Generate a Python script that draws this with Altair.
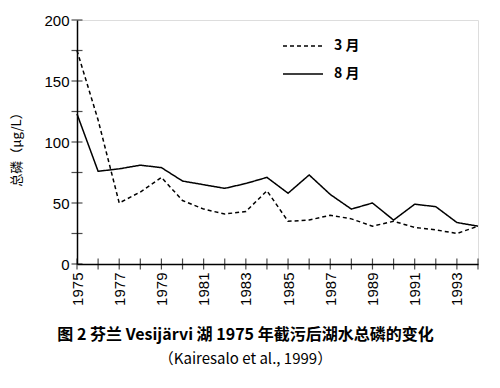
import altair as alt
import pandas as pd

years = list(range(1975, 1995))
march = [175, 118, 50, 59, 71, 52, 45, 41, 43, 60, 35, 36, 40, 37, 31, 35, 30, 28, 25, 31]
august = [123, 76, 78, 81, 79, 68, 65, 62, 66, 71, 58, 73, 57, 45, 50, 36, 49, 47, 34, 31]
series_names = ["3 月", "8 月"]
y_label_values = [0, 50, 100, 150, 200]
y_tick_values = [0, 25, 50, 75, 100, 125, 150, 175, 200]
x_label_values = list(range(1975, 1995, 2))

rows = []
for y, m, a in zip(years, march, august):
    rows.append({"year": y, "value": m, "series": series_names[0]})
    rows.append({"year": y, "value": a, "series": series_names[1]})
df = pd.DataFrame(rows)

FONT = "Liberation Sans"
CJK = "Noto Sans CJK SC"

xscale = alt.Scale(domain=[1975, 1994], nice=False, zero=False)
yscale = alt.Scale(domain=[0, 200], nice=False)

lines = alt.Chart(df).mark_line(color="black", strokeWidth=1.5).encode(
    x=alt.X("year:Q", scale=xscale,
            axis=alt.Axis(values=x_label_values, format="d", labelAngle=270,
                          title=None, ticks=False, grid=False, domainColor="black",
                          domainWidth=1.5, labelFont=FONT, labelFontSize=15,
                          labelColor="black", labelPadding=8)),
    y=alt.Y("value:Q", scale=yscale,
            axis=alt.Axis(values=y_label_values, title="总磷（μg/L）", ticks=False,
                          grid=False, domainColor="black", domainWidth=1.5,
                          labelFont=FONT, labelFontSize=15, labelColor="black",
                          labelPadding=8, titleFont=CJK, titleFontSize=13,
                          titleFontWeight="normal", titleColor="black",
                          titleX=-61, titleY=126, titleAngle=270,
                          titleBaseline="middle", titleAlign="center")),
    strokeDash=alt.StrokeDash("series:N",
        scale=alt.Scale(domain=series_names, range=[[4, 3], [1, 0]]),
        legend=alt.Legend(title=None, orient="none", legendX=205, legendY=5,
                          symbolType="stroke", symbolSize=1600, symbolStrokeColor="black",
                          symbolStrokeWidth=1.5, labelFont=CJK, labelFontSize=14,
                          labelFontWeight="bold", labelColor="black", labelOffset=10,
                          rowPadding=-21)),
)

xt = pd.DataFrame({"year": years, "value": [0] * len(years)})
xticks = alt.Chart(xt).mark_tick(color="black", orient="vertical", size=11, thickness=1.2).encode(
    x=alt.X("year:Q", scale=xscale), y=alt.Y("value:Q", scale=yscale))

yt = pd.DataFrame({"year": [1975] * len(y_tick_values), "value": y_tick_values})
yticks = alt.Chart(yt).mark_tick(color="black", orient="horizontal", size=11, thickness=1.2).encode(
    x=alt.X("year:Q", scale=xscale), y=alt.Y("value:Q", scale=yscale))

chart = alt.layer(lines, xticks, yticks).properties(
    width=401, height=244,
    autosize=alt.AutoSizeParams(type="none"),
    padding={"left": 69, "top": 12, "right": 14, "bottom": 116},
    title=alt.TitleParams(
        text="图 2  芬兰 Vesijärvi 湖 1975 年截污后湖水总磷的变化",
        subtitle="（Kairesalo  et  al.,  1999）",
        orient="bottom", anchor="middle", dx=-32, offset=22,
        font=CJK, fontSize=16, fontWeight="bold", color="black",
        subtitleFont=CJK, subtitleFontSize=15, subtitleFontWeight="normal",
        subtitleColor="black", subtitlePadding=9),
).configure_view(stroke=None).configure(background="white")

chart.save("out.html", embed_options={"renderer": "svg", "actions": False})
